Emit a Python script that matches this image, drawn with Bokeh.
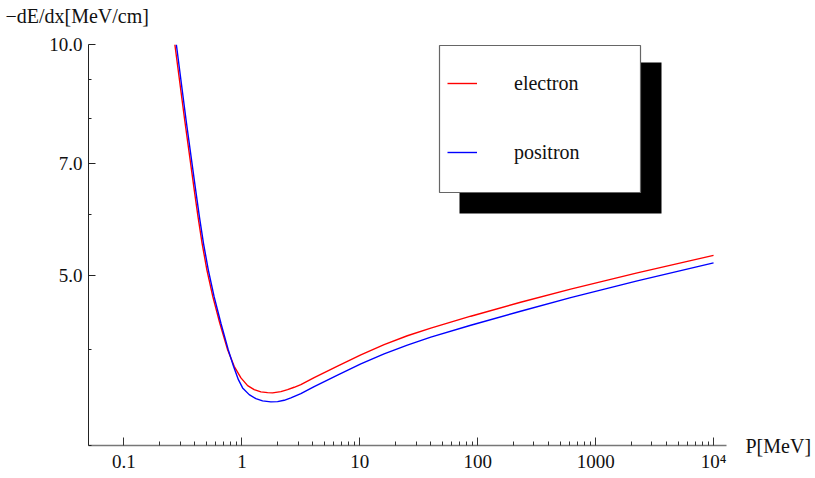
from bokeh.plotting import figure
from bokeh.models import (Range1d, FixedTicker, CustomJSTickFormatter, PrintfTickFormatter,
                          Legend, LegendItem, BoxAnnotation, Label)
from bokeh.embed import file_html
from bokeh.resources import INLINE

# ---- data ----
electron_p = [0.270, 0.3276, 0.3950, 0.4246, 0.4600, 0.5050, 0.5666, 0.6497, 0.7566, 0.860,
              0.981, 1.118, 1.271, 1.449, 1.652, 1.820, 2.141, 2.440, 2.775, 3.162, 4.10, 6.47,
              10.2, 16.07, 25.3, 40.0, 87.3, 231, 614, 2254, 10000]
electron_dedx = [10.0, 7.96, 6.45, 5.96, 5.50, 5.08, 4.69, 4.33, 4.00, 3.805,
                 3.675, 3.591, 3.548, 3.524, 3.516, 3.513, 3.527, 3.548, 3.573, 3.602, 3.678, 3.808,
                 3.938, 4.061, 4.171, 4.267, 4.423, 4.612, 4.797, 5.037, 5.310]

positron_p = [0.2780, 0.3365, 0.4060, 0.4362, 0.4726, 0.5191, 0.5812, 0.6637, 0.7655, 0.8487,
              0.9338, 1.014, 1.153, 1.314, 1.497, 1.761, 2.007, 2.283, 2.602, 3.162, 4.10, 6.47,
              10.2, 16.07, 25.3, 40.0, 87.3, 231, 614, 2254, 10000]
positron_dedx = [10.0, 7.96, 6.45, 5.96, 5.50, 5.08, 4.69, 4.33, 4.00, 3.805,
                 3.656, 3.566, 3.495, 3.453, 3.430, 3.420, 3.422, 3.436, 3.462, 3.506, 3.580, 3.706,
                 3.832, 3.949, 4.055, 4.153, 4.305, 4.489, 4.677, 4.917, 5.190]

x_ticks = [0.1, 1, 10, 100, 1000, 10000]
x_tick_labels = ["0.1", "1", "10", "100", "1000", "10\u2074"]
y_ticks = [5.0, 7.0, 10.0]
y_minor_ticks = [3.0, 4.0, 6.0, 8.0, 9.0]
series_names = ["electron", "positron"]
series_colors = ["#ff0000", "#0000ff"]
x_title = "P[MeV]"
y_title = "\u2212dE/dx[MeV/cm]"

FONT = "Liberation Serif"

p = figure(width=815, height=478, x_axis_type="log", y_axis_type="log",
           x_range=Range1d(0.05, 12880), y_range=Range1d(3.0, 10.0),
           output_backend="svg", toolbar_location=None,
           min_border_left=88, min_border_right=89, min_border_top=44, min_border_bottom=33)
p.outline_line_color = None
p.grid.visible = False
p.background_fill_color = "white"

# legend shadow and framed box
p.add_layout(BoxAnnotation(left=371, right=573, bottom=232, top=383,
                           left_units="screen", right_units="screen",
                           bottom_units="screen", top_units="screen",
                           fill_color="black", fill_alpha=1.0, line_color=None))
p.add_layout(BoxAnnotation(left=351, right=552, bottom=253, top=400,
                           left_units="screen", right_units="screen",
                           bottom_units="screen", top_units="screen",
                           fill_color="white", fill_alpha=1.0,
                           line_color="#666666", line_width=1.2, line_alpha=1.0))

r1 = p.line(electron_p, electron_dedx, line_color=series_colors[0], line_width=1.4)
r2 = p.line(positron_p, positron_dedx, line_color=series_colors[1], line_width=1.4)

# x axis
minor_x = [m * 10.0 ** k for k in range(-1, 4) for m in range(2, 10)]
xa = p.xaxis[0]
xa.ticker = FixedTicker(ticks=x_ticks, minor_ticks=minor_x)
xa.formatter = CustomJSTickFormatter(args=dict(xt=x_ticks, xl=x_tick_labels), code="""
    for (let i = 0; i < xt.length; i++) {
        if (Math.abs(Math.log10(xt[i]) - Math.log10(tick)) < 1e-6) return xl[i];
    }
    return "";
""")
xa.axis_line_color = "#777777"
xa.axis_line_width = 1.6
xa.major_tick_in = 8
xa.major_tick_out = 0
xa.minor_tick_in = 4
xa.minor_tick_out = 0
xa.major_tick_line_color = "#333333"
xa.minor_tick_line_color = "#333333"
xa.major_label_text_font = FONT
xa.major_label_text_font_size = "19px"
xa.major_label_text_color = "#111111"
xa.major_label_standoff = 5

# y axis
ya = p.yaxis[0]
ya.ticker = FixedTicker(ticks=y_ticks, minor_ticks=y_minor_ticks)
ya.formatter = PrintfTickFormatter(format="%.1f")
ya.axis_line_color = "#222222"
ya.axis_line_width = 1
ya.major_tick_in = 7
ya.major_tick_out = 0
ya.minor_tick_in = 3
ya.minor_tick_out = 0
ya.major_tick_line_color = "#222222"
ya.minor_tick_line_color = "#222222"
ya.major_label_text_font = FONT
ya.major_label_text_font_size = "19px"
ya.major_label_text_color = "#111111"
ya.major_label_standoff = 6

# axis titles placed in the side panels
p.add_layout(Label(x=-83, y=29, x_units="screen", y_units="screen", text=y_title,
                   text_font=FONT, text_font_size="20px", text_color="#111111",
                   text_baseline="middle", text_align="left"), "above")
p.add_layout(Label(x=19, y=0, x_units="screen", y_units="screen", text=x_title,
                   text_font=FONT, text_font_size="20px", text_color="#111111",
                   text_baseline="middle", text_align="left"), "right")

legend = Legend(items=[LegendItem(label=series_names[0], renderers=[r1]),
                       LegendItem(label=series_names[1], renderers=[r2])],
                location=(349, 253), margin=0, padding=10, spacing=9,
                glyph_width=30, glyph_height=60, label_height=60, label_width=114,
                label_standoff=37, label_text_font=FONT, label_text_font_size="20px",
                label_text_color="#111111",
                border_line_color="#666666", border_line_alpha=0.0,
                background_fill_color="white", background_fill_alpha=0.0)
p.add_layout(legend)

open("out.html", "w").write(file_html(p, INLINE))
